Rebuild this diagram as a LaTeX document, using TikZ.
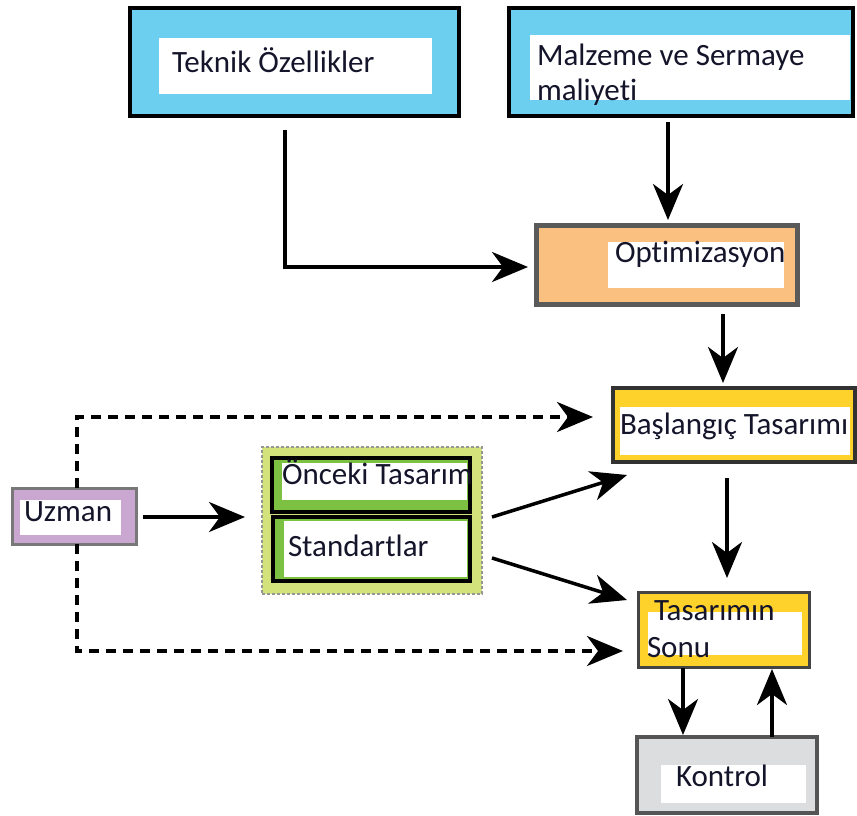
\documentclass[tikz,border=0pt]{standalone}
\usepackage{fontspec}
\setmainfont{Carlito}[Ligatures={NoCommon}]
\usetikzlibrary{arrows.meta}
\definecolor{cblue}{HTML}{6DCFF0}
\definecolor{corange}{HTML}{F9C07F}
\definecolor{cyellow}{HTML}{FFD12B}
\definecolor{cgreenl}{HTML}{D3E27A}
\definecolor{cgreen}{HTML}{7DC142}
\definecolor{clilac}{HTML}{C9A7D1}
\definecolor{cgray}{HTML}{DCDDDF}
\definecolor{ctext}{HTML}{14142A}
\begin{document}
\begin{tikzpicture}[x=1pt,y=-1pt,
  box/.style={draw, rectangle, inner sep=0pt, outer sep=0pt},
  whitebox/.style={fill=white, rectangle, inner sep=0pt, outer sep=0pt},
  txt/.style={anchor=base west, inner sep=0pt, outer sep=0pt, text=ctext, font=\fontsize{31}{34}\selectfont},
  arr/.style={line width=3.5pt, -{Stealth[length=36pt,width=30pt,inset=11pt]}},
  darr/.style={arr, dash pattern=on 10pt off 7pt}]
\useasboundingbox (0,0) rectangle (857,816);

% Teknik
\node[box, fill=cblue, line width=4pt, minimum width=329, minimum height=108] (teknik) at (294.5,62) {};
\node[whitebox, minimum width=273, minimum height=56] (teknikw) at (295.5,66) {};
\node[txt] (teknikt) at (172,73) {Teknik Özellikler};

% Malzeme
\node[box, fill=cblue, line width=4pt, minimum width=344, minimum height=108] (malz) at (681,62) {};
\node[whitebox, minimum width=320, minimum height=65] (malzw) at (690,67.5) {};
\node[txt] (malzt1) at (537,66) {Malzeme ve Sermaye};
\node[txt] (malzt2) at (537,100) {maliyeti};

% Optimizasyon
\node[box, fill=corange, draw={rgb,255:red,90;green,90;blue,90}, line width=5pt, minimum width=261, minimum height=79] (opt) at (666.5,264.5) {};
\node[whitebox, minimum width=176, minimum height=46] (optw) at (696,265) {};
\node[txt] (optt) at (615,262) {Optimizasyon};

% Baslangic
\node[box, fill=cyellow, draw={rgb,255:red,50;green,50;blue,50}, line width=3.5pt, minimum width=242, minimum height=74] (basl) at (734,425) {};
\node[whitebox, minimum width=230, minimum height=48] (baslw) at (735,431) {};
\node[txt] (baslt) at (620,434) {Başlangıç Tasarımı};

% Group
\node[box, fill=cgreenl, draw={rgb,255:red,150;green,150;blue,150}, line width=1.5pt, dash pattern=on 3pt off 2pt, minimum width=220, minimum height=147] (group) at (372,520.5) {};
\node[box, fill=cgreen, draw=black, line width=3.5pt, minimum width=198, minimum height=54] (onceki) at (371,485) {};
\node[whitebox, minimum width=185, minimum height=37] (oncekiw) at (374.5,481.5) {};
\node[txt] (oncekit) at (282,484) {Önceki Tasarım};
\node[box, fill=cgreen, draw=black, line width=3.5pt, minimum width=197, minimum height=64] (stand) at (371.5,549) {};
\node[whitebox, minimum width=183, minimum height=56] (standw) at (375.5,549) {};
\node[txt] (standt) at (288,556) {Standartlar};

% Uzman
\node[box, fill=clilac, draw={rgb,255:red,120;green,120;blue,120}, line width=3pt, minimum width=124, minimum height=56] (uzman) at (74,516) {};
\node[whitebox, minimum width=101, minimum height=35] (uzmanw) at (70.5,517.5) {};
\node[txt] (uzmant) at (24,521) {Uzman};

% Sonu
\node[box, fill=cyellow, draw={rgb,255:red,68;green,68;blue,68}, line width=3pt, minimum width=171, minimum height=75] (sonu) at (723.5,629.5) {};
\node[whitebox, minimum width=154, minimum height=43] (sonuw) at (725,633.5) {};
\node[txt] (sonut1) at (654,620) {Tasarımın};
\node[txt] (sonut2) at (647,657) {Sonu};

% Kontrol
\node[box, fill=cgray, draw={rgb,255:red,85;green,85;blue,85}, line width=3.5pt, minimum width=180, minimum height=76] (kontrol) at (727,775) {};
\node[whitebox, minimum width=145, minimum height=38] (kontrolw) at (733.5,784) {};
\node[txt] (kontrolt) at (676,786) {Kontrol};

% Connectors
\draw[arr] ([shift={(-9.5,14)}]teknik.south) |- ([shift={(-8,2.5)}]opt.west);
\draw[arr] ([shift={(-13,6)}]malz.south) -- ([shift={(1.5,-5)}]opt.north);
\draw[arr] ([shift={(56.5,10)}]opt.south) -- ([shift={(-11,-5)}]basl.north);
\draw[arr] ([shift={(-7,16)}]basl.south) -- ([shift={(3.5,-14)}]sonu.north);
\draw[arr] ([shift={(7,1)}]uzman.east) -- ([shift={(-17,-3.5)}]group.west);
\draw[arr] ([shift={(10,-3.5)}]group.east) -- ([shift={(14,13)}]basl.south west);
\draw[arr] ([shift={(10,37.5)}]group.east) -- ([shift={(-11,-29.5)}]sonu.west);
\draw[darr] ([shift={(3,0)}]uzman.north) |- ([shift={(-20,-8)}]basl.west);
\draw[darr] ([shift={(3,0)}]uzman.south) |- ([shift={(-15,21.5)}]sonu.west);
\draw[arr] ([shift={(-40.5,1)}]sonu.south) -- ([shift={(-44,-2)}]kontrol.north);
\draw[arr] ([shift={(45,0)}]kontrol.north) -- ([shift={(48.5,2)}]sonu.south);
\end{tikzpicture}
\end{document}
